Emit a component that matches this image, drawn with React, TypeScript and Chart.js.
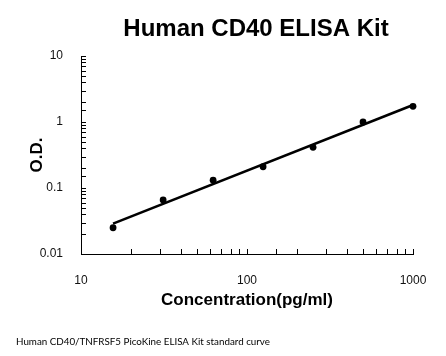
import { useEffect, useRef } from "react";
import { Chart, registerables } from "chart.js";

Chart.register(...registerables);

const concentrations = [15.6, 31.25, 62.5, 125, 250, 500, 1000];
const odValues = [0.025, 0.066, 0.131, 0.21, 0.414, 1.0, 1.73];
const xTickLabels = ["10", "100", "1000"];
const yTickLabels = ["0.01", "0.1", "1", "10"];
const titleText = "Human CD40 ELISA Kit";
const xAxisTitle = "Concentration(pg/ml)";
const yAxisTitle = "O.D.";
const footnote = "Human CD40/TNFRSF5 PicoKine ELISA Kit standard curve";

// power (log-log least squares) fit, as a trendline
function powerFit(xs: number[], ys: number[]) {
  const lx = xs.map(Math.log10);
  const ly = ys.map(Math.log10);
  const n = lx.length;
  const mx = lx.reduce((a, b) => a + b, 0) / n;
  const my = ly.reduce((a, b) => a + b, 0) / n;
  let sxy = 0;
  let sxx = 0;
  for (let i = 0; i < n; i++) {
    sxy += (lx[i] - mx) * (ly[i] - my);
    sxx += (lx[i] - mx) * (lx[i] - mx);
  }
  const b = sxy / sxx;
  const a = my - b * mx;
  return (x: number) => Math.pow(10, a + b * Math.log10(x));
}

function labelFor(v: number, labels: string[]) {
  const found = labels.find((l) => Math.abs(Math.log10(parseFloat(l)) - Math.log10(v)) < 1e-6);
  return found ?? "";
}

const FONT = "'Liberation Sans', Arial, sans-serif";

export default function App() {
  const ref = useRef<HTMLCanvasElement | null>(null);

  useEffect(() => {
    if (!ref.current) return;
    const fit = powerFit(concentrations, odValues);
    const xFirst = concentrations[0];
    const xLast = concentrations[concentrations.length - 1];

    const decor = {
      id: "decor",
      afterDraw(chart: any) {
        const ctx = chart.ctx as CanvasRenderingContext2D;
        const { chartArea } = chart;
        const xs = chart.scales.x;
        const ys = chart.scales.y;
        ctx.save();
        // inner tick marks
        ctx.strokeStyle = "#000";
        ctx.lineWidth = 1;
        ctx.beginPath();
        xs.ticks.forEach((t: any) => {
          const px = Math.round(xs.getPixelForValue(t.value)) + 0.5;
          ctx.moveTo(px, chartArea.bottom);
          ctx.lineTo(px, chartArea.bottom - 5);
        });
        ys.ticks.forEach((t: any) => {
          const py = Math.round(ys.getPixelForValue(t.value)) + 0.5;
          ctx.moveTo(chartArea.left, py);
          ctx.lineTo(chartArea.left + 5, py);
        });
        ctx.stroke();

        ctx.fillStyle = "#000";
        ctx.textAlign = "center";
        ctx.textBaseline = "alphabetic";
        ctx.font = `bold 24px ${FONT}`;
        ctx.fillText(titleText, 256, 36);

        ctx.textBaseline = "middle";
        ctx.font = `bold 17px ${FONT}`;
        ctx.fillText(xAxisTitle, 247, 300);

        ctx.save();
        ctx.translate(37, 155);
        ctx.rotate(-Math.PI / 2);
        ctx.fillText(yAxisTitle, 0, 0);
        ctx.restore();

        ctx.textAlign = "left";
        ctx.font = `9.8px Lato, 'Open Sans', sans-serif`;
        ctx.fillText(footnote, 16, 342);
        ctx.restore();
      },
    };

    const chart = new Chart(ref.current, {
      type: "scatter",
      data: {
        datasets: [
          {
            label: "fit",
            data: [
              { x: xFirst, y: fit(xFirst) },
              { x: xLast, y: fit(xLast) },
            ],
            showLine: true,
            borderColor: "#000",
            borderWidth: 2.6,
            pointRadius: 0,
            clip: false as any,
          },
          {
            label: "standards",
            data: concentrations.map((c, i) => ({ x: c, y: odValues[i] })),
            backgroundColor: "#000",
            borderColor: "#000",
            pointRadius: 3.4,
            pointBorderWidth: 0,
            clip: false as any,
          },
        ],
      },
      options: {
        responsive: false,
        animation: false,
        layout: { padding: { top: 56, right: 33, left: 0, bottom: 0 } },
        plugins: {
          legend: { display: false },
          title: { display: false },
          tooltip: { enabled: false },
        },
        scales: {
          x: {
            type: "logarithmic",
            min: 10,
            max: 1000,
            grid: { display: false },
            border: { display: true, color: "#000", width: 1 },
            ticks: {
              autoSkip: false,
              maxRotation: 0,
              padding: 11,
              color: "#111",
              font: { family: FONT, size: 12 },
              callback: (v: any) => labelFor(Number(v), xTickLabels),
            },
            afterFit: (s: any) => {
              s.height = 102;
            },
          },
          y: {
            type: "logarithmic",
            min: 0.01,
            max: 10,
            grid: { display: false },
            border: { display: true, color: "#000", width: 1 },
            ticks: {
              autoSkip: false,
              padding: 10,
              color: "#111",
              font: { family: FONT, size: 12 },
              callback: (v: any) => labelFor(Number(v), yTickLabels),
            },
            afterFit: (s: any) => {
              s.width = 81;
            },
          },
        },
      },
      plugins: [decor],
    });
    return () => chart.destroy();
  }, []);

  return (
    <div style={{ position: "fixed", left: 0, top: 0, width: 446, height: 356, background: "#fff" }}>
      <canvas ref={ref} width={446} height={356} />
    </div>
  );
}
